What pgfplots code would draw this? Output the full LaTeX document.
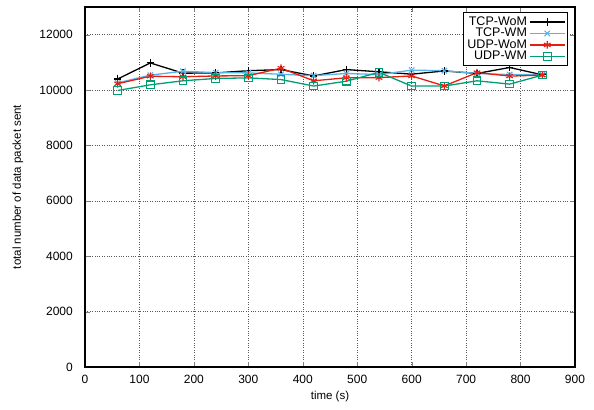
\documentclass[border=0pt]{standalone}
\usepackage{fontspec}
\setmainfont{Liberation Sans}
\usepackage{pgfplots}
\pgfplotsset{compat=1.18}
\usetikzlibrary{calc}

\definecolor{gpblue}{RGB}{86,180,233}
\definecolor{gpred}{RGB}{229,30,16}
\definecolor{gpgreen}{RGB}{0,158,115}

\begin{document}
\fontsize{12}{14}\selectfont
\begin{tikzpicture}
\begin{axis}[
  name=ax,
  scale only axis,
  width=490pt, height=360pt,
  xmin=0, xmax=900, ymin=0, ymax=13000,
  xtick={0,100,...,900}, ytick={0,2000,...,12000},
  scaled y ticks=false,
  /pgf/number format/assume math mode=true,
  /pgf/number format/set thousands separator={},
  tick label style={font=\fontsize{12}{14}\selectfont},
  label style={font=\fontsize{11.5}{13}\selectfont},
  xlabel={time (s)}, ylabel={total number of data packet sent},
  xlabel style={yshift=1pt},
  ylabel style={yshift=8pt},
  yticklabel style={xshift=-8pt},
  xticklabel style={yshift=-4pt},
  tick align=inside, tick pos=both,
  major tick length=5pt,
  axis line style={line width=1.6pt},
  grid=major, grid style={black!65, dotted, line width=0.5pt},
  legend cell align=right,
  legend plot pos=right,
  legend style={at={(rel axis cs:0.986,0.986)}, anchor=north east,
    draw=black, line width=1.2pt, font=\fontsize{12.5}{13}\selectfont,
    row sep=-3pt, inner sep=2pt},
  legend image code/.code={%
    \draw[mark repeat=2, mark phase=2] plot coordinates {(0cm,0cm) (0.62cm,0cm) (1.24cm,0cm)};},
  every axis plot/.append style={line width=1.3pt, mark size=3.8pt,
    mark options={solid, line width=1.1pt}},
]
\addplot[black, mark=+] coordinates {
  (60,10400)(120,10980)(180,10610)(240,10620)(300,10700)(360,10740)(420,10510)
  (480,10740)(540,10660)(600,10575)(660,10690)(720,10600)(780,10815)(840,10550)};
\addlegendentry{TCP-WoM}
\addplot[gpblue, mark=x] coordinates {
  (60,10260)(120,10540)(180,10680)(240,10630)(300,10620)(360,10570)(420,10520)
  (480,10600)(540,10560)(600,10720)(660,10700)(720,10600)(780,10560)(840,10560)};
\addlegendentry{TCP-WM}
\addplot[gpred, mark=asterisk] coordinates {
  (60,10230)(120,10500)(180,10480)(240,10510)(300,10520)(360,10790)(420,10335)
  (480,10445)(540,10450)(600,10510)(660,10150)(720,10630)(780,10505)(840,10540)};
\addlegendentry{UDP-WoM}
\addplot[gpgreen, mark=square] coordinates {
  (60,9985)(120,10190)(180,10335)(240,10420)(300,10440)(360,10380)(420,10145)
  (480,10320)(540,10640)(600,10145)(660,10145)(720,10335)(780,10215)(840,10540)};
\addlegendentry{UDP-WM}
\end{axis}
\pgfresetboundingbox
\path ($(ax.south west)+(-85pt,-42pt)$) rectangle ($(ax.north east)+(19pt,7pt)$);
\end{tikzpicture}
\end{document}
